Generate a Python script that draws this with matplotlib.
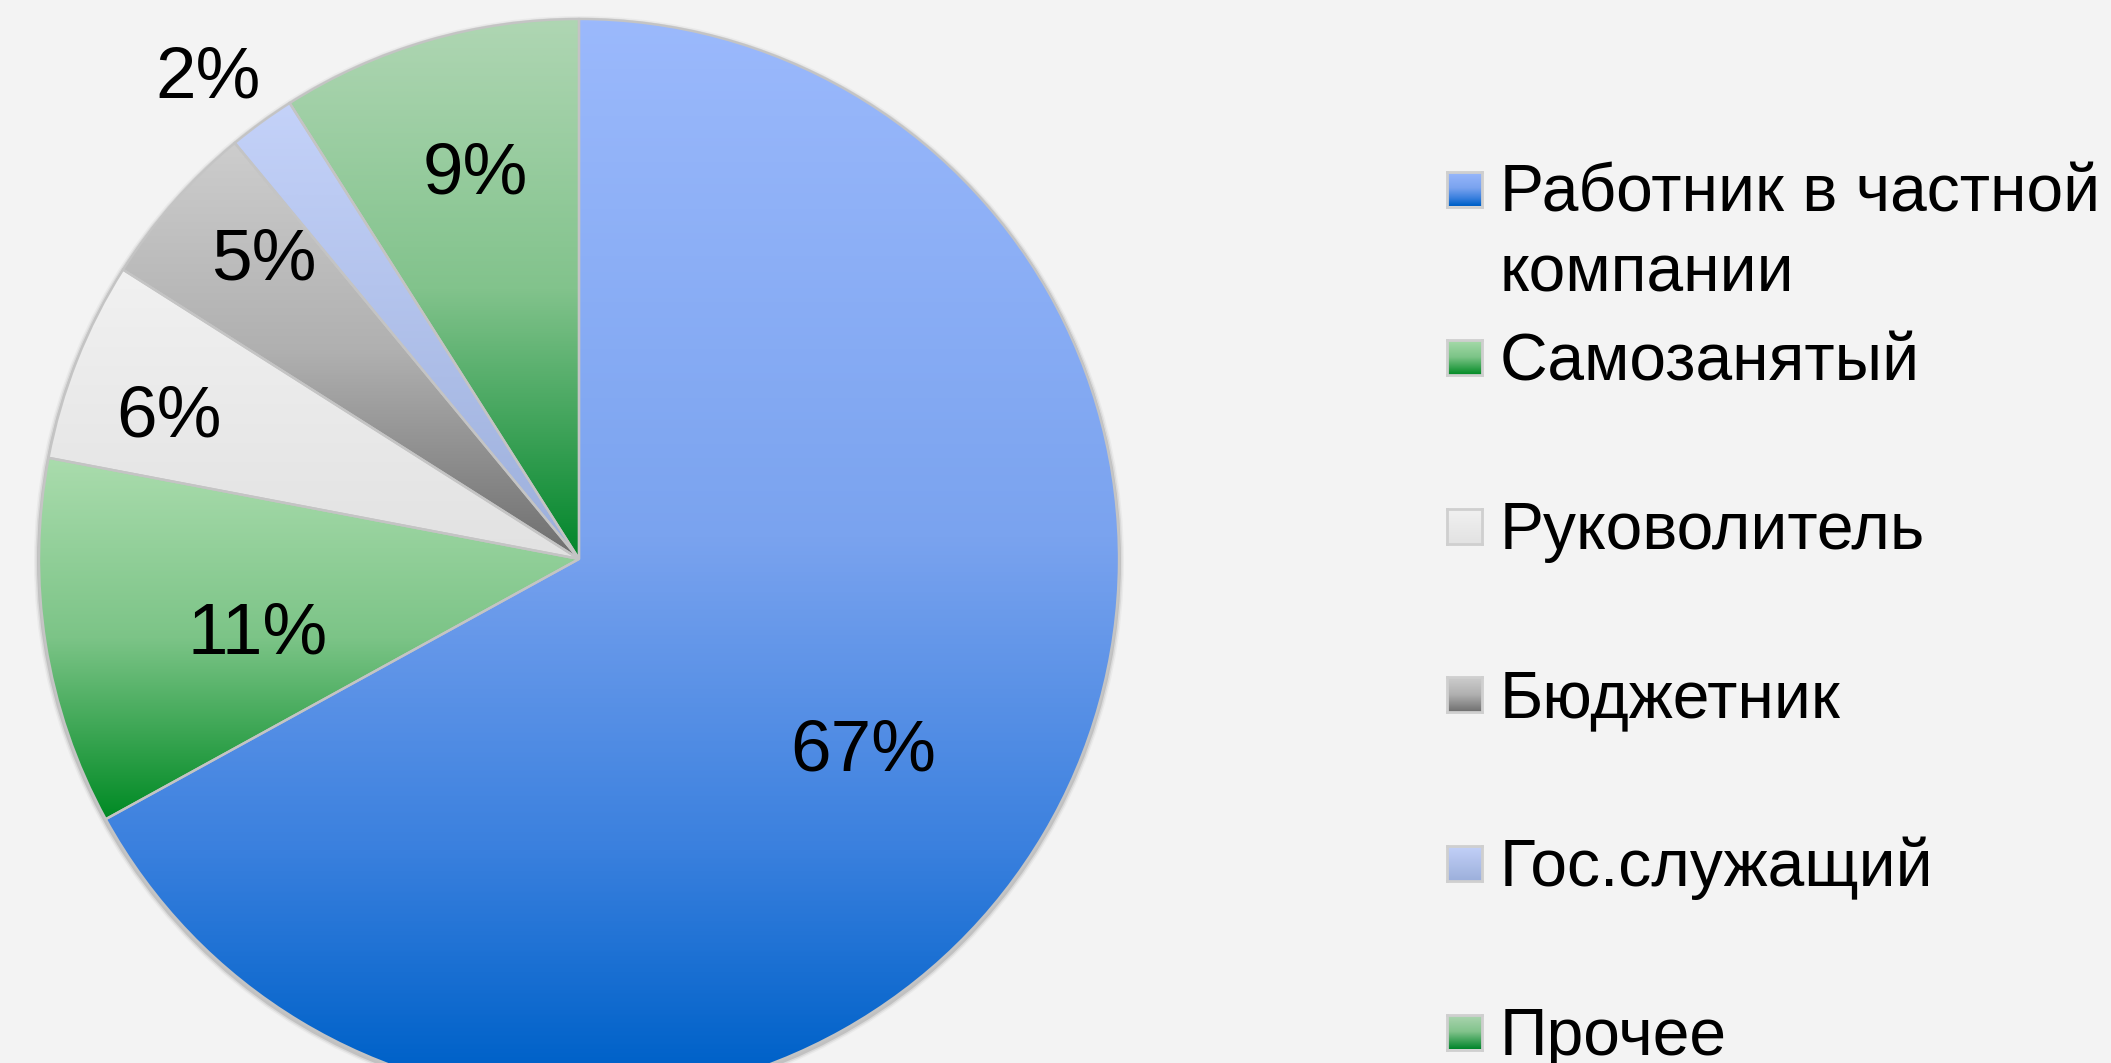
import numpy as np
import matplotlib
matplotlib.use("Agg")
import matplotlib.pyplot as plt
from matplotlib.colors import LinearSegmentedColormap
from matplotlib.patches import Circle

plt.rcParams['font.family'] = ['Liberation Sans', 'DejaVu Sans']

# --- data ---
labels = ["Работник в частной\nкомпании", "Самозанятый", "Руковолитель",
          "Бюджетник", "Гос.служащий", "Прочее"]
values = [67, 11, 6, 5, 2, 9]

# gradient stops per slice (top -> bottom of the slice)
grad_stops = [
    [(0.0, "#9bb9fc"), (0.48, "#7aa3ef"), (0.77, "#3a80de"), (0.97, "#0062c9"), (1.0, "#005fc6")],
    [(0.0, "#aadcad"), (0.5, "#7cc487"), (1.0, "#008a24")],
    [(0.0, "#f1f1f1"), (1.0, "#e2e2e2")],
    [(0.0, "#cdcdcd"), (0.5, "#b0b0b0"), (1.0, "#6e6e6e")],
    [(0.0, "#c4d2f9"), (1.0, "#9cafdb")],
    [(0.0, "#afd6b3"), (0.5, "#82c38c"), (1.0, "#00852a")],
]
# placement of each percentage label: radial distance (fraction of radius)
# and angular nudge from the slice middle (degrees)
label_dist = [0.628, 0.608, 0.807, 0.812, 1.134, 0.749]
label_nudge = [-2.5, 3.0, 1.7, -2.7, 1.3, -1.4]

W, H = 2111, 1063
bg = "#f3f3f3"
fig = plt.figure(figsize=(W / 100, H / 100), dpi=100, facecolor=bg)
ax = fig.add_axes([0, 0, 1, 1])
ax.set_facecolor(bg)

cx, cy, R = 579, H - 559, 540

# soft shadow behind the pie
for dr, a in [(5, 0.05), (3.5, 0.10), (2, 0.18)]:
    ax.add_patch(Circle((cx, cy - 2), R + dr, facecolor="#505050", edgecolor="none",
                        alpha=a, zorder=0))

wedges, _ = ax.pie(values, startangle=90, counterclock=False, center=(cx, cy), radius=R,
                   wedgeprops=dict(edgecolor="#c4c4c4", linewidth=1.7, facecolor="none"))

grad = np.linspace(0, 1, 512)[:, None]
for w, stops in zip(wedges, grad_stops):
    w.set_zorder(3)
    cmap = LinearSegmentedColormap.from_list("g", stops)
    bb = w.get_path().get_extents()
    im = ax.imshow(grad, cmap=cmap, extent=[bb.x0, bb.x1, bb.y0, bb.y1],
                   aspect="auto", origin="upper", zorder=2, interpolation="bilinear")
    im.set_clip_path(w)

# percentage labels
for w, v, d, nd in zip(wedges, values, label_dist, label_nudge):
    mid = np.deg2rad((w.theta1 + w.theta2) / 2 + nd)
    ax.text(cx + d * R * np.cos(mid), cy + d * R * np.sin(mid), f"{v}%",
            ha="center", va="center_baseline", fontsize=52.5, color="black", zorder=5)

ax.set_xlim(0, W)
ax.set_ylim(0, H)
ax.set_aspect("auto")
ax.axis("off")

# legend (drawn by hand: marker aligned with first text line)
leg_x, leg_top, leg_step = 1446, 189, 168.6
msize = 35
for i, (lab, stops) in enumerate(zip(labels, grad_stops)):
    yc = leg_top + i * leg_step
    max_ = fig.add_axes([(leg_x + 1) / W, (H - yc - msize / 2) / H, msize / W, msize / H])
    max_.imshow(grad, cmap=LinearSegmentedColormap.from_list("g", stops), aspect="auto")
    max_.set_xticks([])
    max_.set_yticks([])
    for s in max_.spines.values():
        s.set_color("#cfcfcf")
        s.set_linewidth(2)
    for j, line in enumerate(lab.split("\n")):
        fig.text(1500 / W, (H - (yc + 23 + j * 80)) / H, line, fontsize=47.5,
                 ha="left", va="baseline", color="black")

fig.savefig("out.png", dpi=100, facecolor=bg)
